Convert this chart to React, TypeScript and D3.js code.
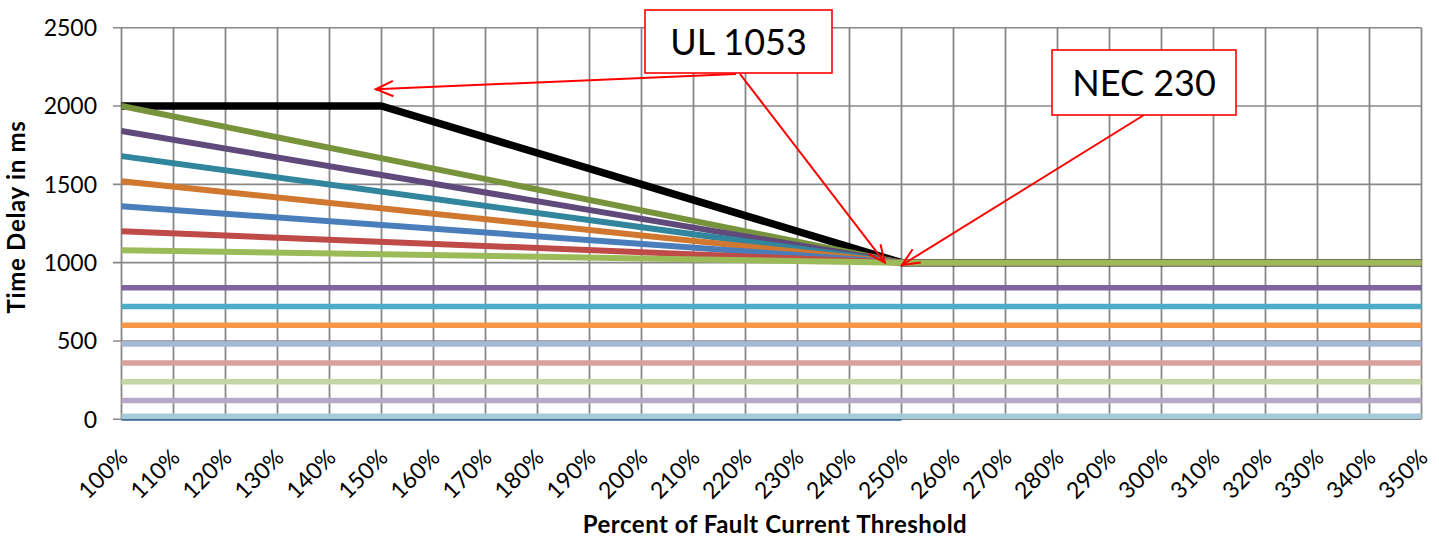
import * as d3 from "d3";

const categories = [
  "100%", "110%", "120%", "130%", "140%", "150%", "160%", "170%", "180%",
  "190%", "200%", "210%", "220%", "230%", "240%", "250%", "260%", "270%",
  "280%", "290%", "300%", "310%", "320%", "330%", "340%", "350%",
];

const yTicks = [0, 500, 1000, 1500, 2000, 2500];

// each series: [category, value] breakpoints, straight segments between them
const ul1053 = [["100%", 2000], ["150%", 2000], ["250%", 1000], ["350%", 1000]];
const olive = [["100%", 2000], ["250%", 1000], ["350%", 1000]];
const darkPurple = [["100%", 1840], ["250%", 1000], ["350%", 1000]];
const darkTeal = [["100%", 1680], ["250%", 1000], ["350%", 1000]];
const darkOrange = [["100%", 1520], ["250%", 1000], ["350%", 1000]];
const blue = [["100%", 1360], ["250%", 1000], ["350%", 1000]];
const red = [["100%", 1200], ["250%", 1000], ["350%", 1000]];
const green = [["100%", 1080], ["250%", 1000], ["350%", 1000]];

const purpleFlat = [["100%", 840], ["350%", 840]];
const aquaFlat = [["100%", 720], ["350%", 720]];
const orangeFlat = [["100%", 600], ["350%", 600]];
const lightBlueFlat = [["100%", 480], ["350%", 480]];
const pinkFlat = [["100%", 360], ["350%", 360]];
const lightGreenFlat = [["100%", 240], ["350%", 240]];
const lightPurpleFlat = [["100%", 120], ["350%", 120]];
const lightAquaFlat = [["100%", 20], ["350%", 20]];
const darkBlueZero = [["100%", 0], ["250%", 0]];

const series = [
  { data: darkBlueZero, color: "#3F6797", width: 3 },
  { data: lightAquaFlat, color: "#A5CAD8", width: 5.5 },
  { data: lightPurpleFlat, color: "#B7A8C9", width: 5.5 },
  { data: lightGreenFlat, color: "#C4D6A6", width: 5.5 },
  { data: pinkFlat, color: "#D9A09E", width: 5.5 },
  { data: lightBlueFlat, color: "#A5B8D6", width: 5.5 },
  { data: orangeFlat, color: "#F79646", width: 5.5 },
  { data: aquaFlat, color: "#4BACC6", width: 5.5 },
  { data: purpleFlat, color: "#8064A2", width: 5.5 },
  { data: ul1053, color: "#000000", width: 7.5 },
  { data: olive, color: "#77933C", width: 6 },
  { data: darkPurple, color: "#604A7B", width: 6 },
  { data: darkTeal, color: "#31859C", width: 6 },
  { data: darkOrange, color: "#D0782F", width: 6 },
  { data: blue, color: "#4A7EBB", width: 6 },
  { data: red, color: "#BE4B48", width: 6 },
  { data: green, color: "#9BBB59", width: 6 },
];

const W = 1439;
const H = 537;
const font = "Lato, 'Open Sans', sans-serif";

export default function App() {
  const x = d3.scalePoint<string>().domain(categories).range([121.5, 1421.5]);
  const y = d3.scaleLinear().domain([0, 2500]).range([419.3, 27.7]);
  const line = d3
    .line<(string | number)[]>()
    .x((d) => x(d[0] as string) as number)
    .y((d) => y(d[1] as number));

  // arrow helper: line from start to tip with an open V head
  const arrow = (x1: number, y1: number, x2: number, y2: number, key: string) => {
    const a = Math.atan2(y2 - y1, x2 - x1);
    const len = 19;
    const spread = 0.42;
    const p1 = [x2 - len * Math.cos(a - spread), y2 - len * Math.sin(a - spread)];
    const p2 = [x2 - len * Math.cos(a + spread), y2 - len * Math.sin(a + spread)];
    return (
      <g key={key} stroke="#FF0000" strokeWidth={2} fill="none">
        <line x1={x1} y1={y1} x2={x2} y2={y2} />
        <path d={`M${p1[0]},${p1[1]}L${x2},${y2}L${p2[0]},${p2[1]}`} />
      </g>
    );
  };

  const xStep = x.step();

  return (
    <svg
      width={W}
      height={H}
      style={{ position: "absolute", left: 0, top: 0, background: "#fff" }}
    >
      {/* grid */}
      {yTicks.map((t) => (
        <g key={t}>
          <line x1={113} x2={1421.5} y1={y(t)} y2={y(t)} stroke="#888" strokeWidth={1.6} />
          <text
            x={97}
            y={y(t)}
            dy="0.36em"
            textAnchor="end"
            fontFamily={font}
            fontSize={23}
            fill="#000"
          >
            {t}
          </text>
        </g>
      ))}
      {categories.map((c) => (
        <g key={c}>
          <line x1={x(c)} x2={x(c)} y1={y(2500)} y2={y(0)} stroke="#888" strokeWidth={1.8} />
          <text
            transform={`translate(${(x(c) as number) + 2},${453}) rotate(-45)`}
            dy="0.36em"
            textAnchor="end"
            fontFamily={font}
            fontSize={23}
            fill="#000"
          >
            {c}
          </text>
        </g>
      ))}

      {/* series */}
      {series.map((s, i) => (
        <path
          key={i}
          d={line(s.data) as string}
          fill="none"
          stroke={s.color}
          strokeWidth={s.width}
          strokeLinejoin="round"
        />
      ))}

      {/* axis titles */}
      <text
        transform={`translate(25,${217}) rotate(-90)`}
        textAnchor="middle"
        fontFamily={font}
        fontWeight="bold"
        fontSize={24}
        letterSpacing={0.7}
      >
        Time Delay in ms
      </text>
      <text
        x={775}
        y={533}
        textAnchor="middle"
        fontFamily={font}
        fontWeight="bold"
        fontSize={24}
        letterSpacing={0.5}
      >
        Percent of Fault Current Threshold
      </text>

      {/* annotations */}
      {arrow(736, 74, (x("150%") as number) - 0.1 * xStep - 0.5, y(2107), "a1")}
      {arrow(740, 74, (x("240%") as number) + 0.68 * xStep, y(1000), "a2")}
      {arrow(1144, 115, (x("250%") as number) + 0.5, y(985), "a3")}

      <rect x={645} y={10} width={187} height={63} fill="#fff" stroke="#FF0000" strokeWidth={1.6} />
      <text
        x={738.5}
        y={42}
        dy="0.36em"
        textAnchor="middle"
        fontFamily={font}
        fontSize={36}
      >
        UL 1053
      </text>
      <rect x={1052} y={50} width={184} height={65} fill="#fff" stroke="#FF0000" strokeWidth={1.6} />
      <text
        x={1144}
        y={83}
        dy="0.36em"
        textAnchor="middle"
        fontFamily={font}
        fontSize={36}
      >
        NEC 230
      </text>
    </svg>
  );
}
